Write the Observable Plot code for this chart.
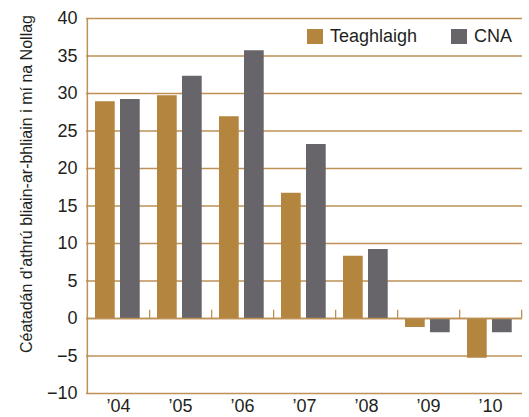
<!DOCTYPE html>
<html>
<head>
<meta charset="utf-8">
<script src="https://cdn.jsdelivr.net/npm/d3@7"></script>
<script src="https://cdn.jsdelivr.net/npm/@observablehq/plot@0.6"></script>
<style>
  html, body { margin: 0; padding: 0; background: #fff; }
  #wrap { position: relative; width: 529px; height: 417px; font-family: "Liberation Sans", Arial, sans-serif; }
  #legend { position: absolute; top: 26px; left: 307px; display: flex; align-items: center; font-size: 18px; color: #231f20; }
  #legend .item { display: flex; align-items: center; }
  #legend .sw { width: 16px; height: 15px; margin-right: 7px; }
</style>
</head>
<body>
<div id="wrap"><div id="legend"></div></div>
<script>
const years = ["’04", "’05", "’06", "’07", "’08", "’09", "’10"];
const seriesNames = ["Teaghlaigh", "CNA"];
const teaghlaigh = [28.9, 29.7, 26.9, 16.7, 8.3, -1.2, -5.3];
const cna = [29.2, 32.3, 35.7, 23.2, 9.2, -1.9, -1.9];
const yTicks = [-10, -5, 0, 5, 10, 15, 20, 25, 30, 35, 40];
const colors = ["#B3853F", "#67656A"];
const yLabel = "Céatadán d’athrú bliain-ar-bhliain i mí na Nollag";

const gridColor = "#BD9155";
const textColor = "#231f20";

const dataT = years.map((y, i) => ({year: y, series: seriesNames[0], value: teaghlaigh[i]}));
const dataC = years.map((y, i) => ({year: y, series: seriesNames[1], value: cna[i]}));

const W = 529, H = 417, mL = 86, mR = 7;
const step = (W - mL - mR) / years.length;

const chart = Plot.plot({
  width: W,
  height: H,
  marginLeft: mL,
  marginRight: mR,
  marginTop: 18,
  marginBottom: 24,
  style: {fontFamily: "'Liberation Sans', Arial, sans-serif", fontSize: "18px", color: textColor, background: "transparent"},
  x: {domain: years, padding: 0, label: null},
  y: {domain: [-10, 40], ticks: yTicks, label: null},
  marks: [
    Plot.ruleY(yTicks, {stroke: gridColor, strokeWidth: 1.3}),
    Plot.barY(dataT, {x: "year", y: "value", fill: colors[0], insetLeft: 8, insetRight: step - 28}),
    Plot.barY(dataC, {x: "year", y: "value", fill: colors[1], insetLeft: 33, insetRight: step - 53}),
    Plot.ruleY([0], {stroke: gridColor, strokeWidth: 1.3}),
    Plot.ruleX(years, {x: d => d, y1: 0, y2: 1.1, dx: step / 2, stroke: gridColor, strokeWidth: 1.3}),
    Plot.ruleX([years[0]], {x: d => d, y1: -10, y2: 40, dx: -step / 2, stroke: gridColor, strokeWidth: 1.5}),
    Plot.axisY({ticks: yTicks, tickSize: 0, tickPadding: 9, fontSize: 18, label: null, fill: textColor}),
    Plot.axisX({tickSize: 0, tickPadding: 6, fontSize: 18, label: null, fill: textColor}),
    Plot.text([yLabel], {text: d => d, frameAnchor: "left", rotate: -90, textAnchor: "middle", dx: -60, dy: -22, fontSize: 16, fill: textColor})
  ]
});

document.getElementById("wrap").prepend(chart);

const legend = document.getElementById("legend");
seriesNames.forEach((s, i) => {
  const item = document.createElement("div");
  item.className = "item";
  if (i > 0) item.style.marginLeft = "34px";
  const sw = document.createElement("span");
  sw.className = "sw";
  sw.style.background = colors[i];
  const t = document.createElement("span");
  t.textContent = s;
  item.append(sw, t);
  legend.append(item);
});
</script>
</body>
</html>
